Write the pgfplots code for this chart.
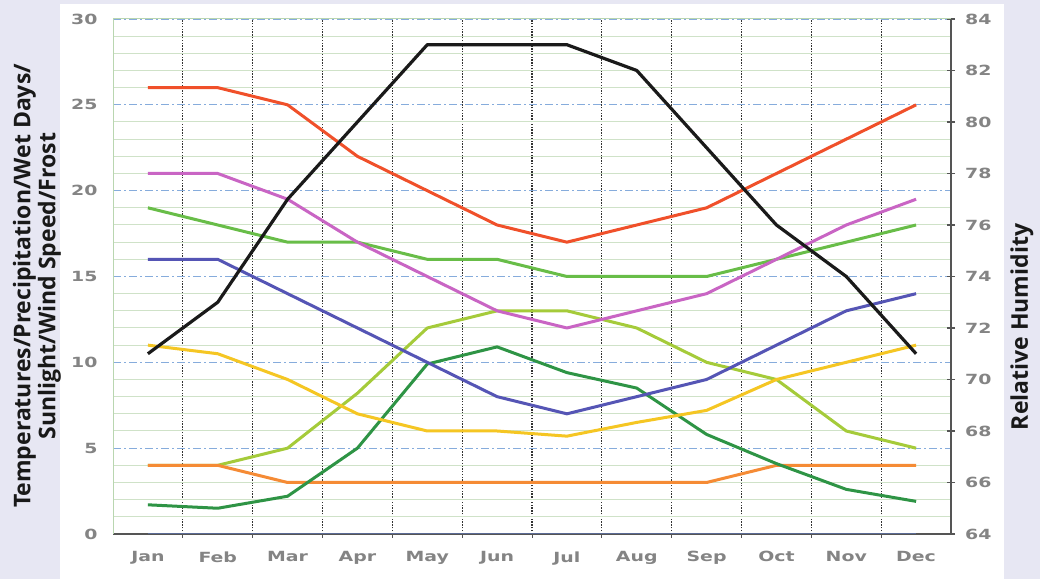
\documentclass[border=0pt]{standalone}
\usepackage{pgfplots}
\usepackage{pgfplotstable}
\pgfplotsset{compat=1.18}
\usepackage{fontspec}
\setmainfont{DejaVu Sans}
\newfontfamily\labelfont{Open Sans}
\definecolor{bgl}{HTML}{E7E7F3}
\definecolor{gridgreen}{HTML}{CFE2C8}
\definecolor{axgreen}{HTML}{B9D6B0}
\definecolor{gridblue}{HTML}{86ACDC}
\definecolor{axgrey}{HTML}{555555}
\definecolor{ticklab}{HTML}{848484}
\definecolor{cred}{HTML}{F0502A}
\definecolor{cmag}{HTML}{C965C4}
\definecolor{cgreen}{HTML}{68BD48}
\definecolor{cblue}{HTML}{5555B5}
\definecolor{cyellow}{HTML}{F5C623}
\definecolor{clime}{HTML}{A5CB3A}
\definecolor{corange}{HTML}{F58B35}
\definecolor{cdgreen}{HTML}{2E9445}
\definecolor{cblack}{HTML}{1A1A1A}
\definecolor{czero}{HTML}{5B6B95}

\pgfplotstableread{
m red mag green blue yellow lime orange dgreen zero rh
1  26 21   19 16 11   4   4 1.7 0 71
2  26 21   18 16 10.5 4   4 1.5 0 73
3  25 19.5 17 14 9    5   3 2.2 0 77
4  22 17   17 12 7    8.2 3 5.0 0 80
5  20 15   16 10 6    12  3 9.9 0 83
6  18 13   16 8  6    13  3 10.9 0 83
7  17 12   15 7  5.7  13  3 9.4 0 83
8  18 13   15 8  6.5  12  3 8.5 0 82
9  19 14   15 9  7.2  10  3 5.8 0 79
10 21 16   16 11 9    9   4 4.1 0 76
11 23 18   17 13 10   6   4 2.6 0 74
12 25 19.5 18 14 11   5   4 1.9 0 71
}\climate

\begin{document}
\begin{tikzpicture}[x=1bp,y=1bp]
\useasboundingbox (0,0) rectangle (1040,579);
\fill[bgl] (0,0) rectangle (1040,579);
\fill[white] (60,0) rectangle (1004,575);
\begin{axis}[
  at={(113bp,45bp)}, anchor=south west,
  scale only axis, width=838bp, height=515bp,
  xmin=0.5, xmax=12.5, ymin=0, ymax=30,
  axis x line*=bottom, axis y line*=left,
  axis line style={-},
  x axis line style={-, draw=axgrey, line width=1.3bp},
  y axis line style={-, draw=axgreen, line width=1bp},
  xtick={1.5,2.5,...,11.5}, xticklabels={},
  xtick pos=bottom, tick align=outside, major tick length=4bp,
  xtick style={draw=axgrey, line width=1bp},
  xmajorgrids,
  major x grid style={draw=black!80, line width=1.2bp, dash pattern=on 1.4bp off 1.4bp},
  extra x ticks={1,...,12},
  extra x tick labels={Jan,Feb,Mar,Apr,May,Jun,Jul,Aug,Sep,Oct,Nov,Dec},
  extra x tick style={grid=none, major tick length=0bp},
  ytick={0,5,...,30},
  minor ytick={1,2,3,4,6,7,8,9,11,12,13,14,16,17,18,19,21,22,23,24,26,27,28,29},
  ytick style={draw=none},
  ymajorgrids, yminorgrids,
  major y grid style={draw=gridblue, line width=1.2bp, dash pattern=on 8bp off 3bp on 2bp off 3bp},
  minor y grid style={draw=gridgreen, line width=1bp},
  /pgf/number format/assume math mode=true,
  tick label style={font=\bfseries\fontsize{14bp}{16bp}\selectfont, text=ticklab, xscale=1.35},
  yticklabel style={xshift=-5bp},
  xticklabel style={yshift=-14bp},
  every axis plot/.append style={line width=3bp, mark=none, line join=round},
]
\addplot[clime] table[x=m,y=lime]{\climate};
\addplot[corange] table[x=m,y=orange]{\climate};
\addplot[cdgreen] table[x=m,y=dgreen]{\climate};
\addplot[cyellow] table[x=m,y=yellow]{\climate};
\addplot[cblue] table[x=m,y=blue]{\climate};
\addplot[cgreen] table[x=m,y=green]{\climate};
\addplot[cmag] table[x=m,y=mag]{\climate};
\addplot[cred] table[x=m,y=red]{\climate};
\addplot[czero, line width=2bp] table[x=m,y=zero]{\climate};
\end{axis}
\begin{axis}[
  at={(113bp,45bp)}, anchor=south west,
  scale only axis, width=838bp, height=515bp,
  xmin=0.5, xmax=12.5, ymin=64, ymax=84,
  axis x line*=top, axis y line*=right,
  axis line style={-},
  x axis line style={-, draw=axgreen, line width=1bp},
  y axis line style={-, draw=axgrey, line width=1.6bp},
  xtick=\empty,
  ytick={64,66,...,84},
  tick align=center, major tick length=8bp,
  ytick style={draw=axgrey, line width=1.2bp},
  /pgf/number format/assume math mode=true,
  tick label style={font=\bfseries\fontsize{14bp}{16bp}\selectfont, text=ticklab, xscale=1.35},
  yticklabel style={xshift=4bp},
]
\addplot[cblack, line width=3.2bp, mark=none, line join=round] table[x=m,y=rh]{\climate};
\end{axis}
\node[rotate=90, align=center, font=\labelfont\bfseries\fontsize{23bp}{25bp}\selectfont, text=black!90] at (37,293)
  {Temperatures/Precipitation/Wet Days/\\Sunlight/Wind Speed/Frost};
\node[rotate=90, font=\labelfont\bfseries\fontsize{23bp}{25bp}\selectfont, text=black!90] at (1022,252)
  {Relative Humidity};
\end{tikzpicture}
\end{document}
